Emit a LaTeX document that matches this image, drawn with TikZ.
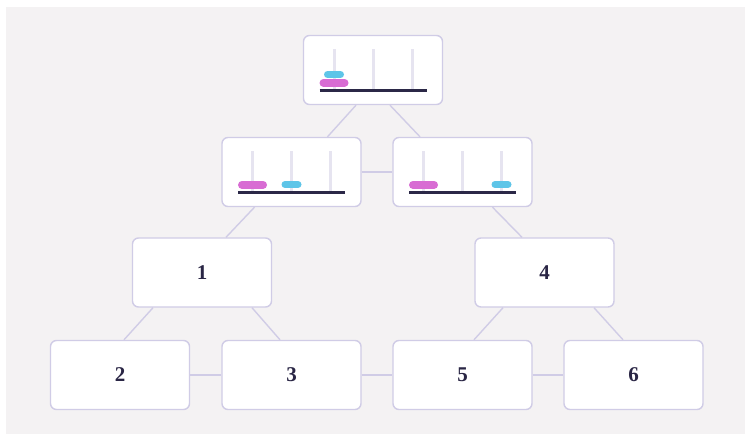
\documentclass[tikz,border=0pt]{standalone}
\usepackage{fontspec}
\setmainfont{Liberation Serif}
\usepackage{xcolor}
\usepackage{tikz}
\usetikzlibrary{positioning,calc}
\definecolor{pagebg}{HTML}{F4F2F3}
\definecolor{boxline}{HTML}{D0CCE6}
\definecolor{pegcol}{HTML}{E6E4F0}
\definecolor{basecol}{HTML}{2B2847}
\definecolor{pinkdisk}{HTML}{D86CD3}
\definecolor{cyandisk}{HTML}{5EC5E8}
\definecolor{labelcol}{HTML}{2A2645}

% three pegs with two disks inside a state node
\newcommand{\towers}[4]{%
    \foreach \px in {-39,0,39}
        \draw[peg] ($(#1)+(\px,-21)$) -- ($(#1)+(\px,19)$);
    \draw[base] ($(#1)+(-53.5,20.5)$) -- ($(#1)+(53.5,20.5)$);
    \draw[bigdisk] ($(#1)+(#2-10.5,12.75)$) -- ($(#1)+(#2+10.5,12.75)$);
    \draw[smalldisk] ($(#1)+(#3-6.5,#4)$) -- ($(#1)+(#3+6.5,#4)$);
}

\begin{document}
\begin{tikzpicture}[
        x=1pt, y=-1pt,
        every node/.style={font=\fontsize{21}{24}\selectfont\bfseries, text=labelcol},
        state/.style={draw=boxline, fill=white, rounded corners=6pt, line width=1.4pt, minimum width=139pt, minimum height=69pt, inner sep=0pt},
        link/.style={draw=boxline, line width=1.4pt},
        peg/.style={pegcol, line width=3pt},
        base/.style={basecol, line width=3.5pt},
        bigdisk/.style={pinkdisk, line width=8pt, line cap=round},
        smalldisk/.style={cyandisk, line width=7pt, line cap=round},
    ]
        \useasboundingbox (0,0) rectangle (745,439);
        \fill[white] (0,0) rectangle (745,439);
        \fill[pagebg] (6,7) rectangle (745,434);

        \node[state] (top) at (373,70) {};
        \node[state] (midl) at (291.5,172) {};
        \node[state] (midr) at (462.5,172) {};
        \node[state] (n1) at (202,272.5) {1};
        \node[state] (n4) at (544.5,272.5) {4};
        \node[state] (n2) at (120,375) {2};
        \node[state] (n3) at (291.5,375) {3};
        \node[state] (n5) at (462.5,375) {5};
        \node[state] (n6) at (633.5,375) {6};

        \towers{top}{-39}{-39}{4.5}
        \towers{midl}{-39}{0}{12.5}
        \towers{midr}{-39}{39}{12.5}

        \draw[link] ([xshift=-17]top.south) -- ([xshift=36]midl.north);
        \draw[link] ([xshift=17]top.south) -- ([xshift=-42.5]midr.north);
        \draw[link] (midl.east) -- (midr.west);
        \draw[link] ([xshift=-37]midl.south) -- ([xshift=24]n1.north);
        \draw[link] ([xshift=30]midr.south) -- ([xshift=-22.5]n4.north);
        \draw[link] ([xshift=-49]n1.south) -- ([xshift=4]n2.north);
        \draw[link] ([xshift=50]n1.south) -- ([xshift=-11.5]n3.north);
        \draw[link] ([xshift=-41.5]n4.south) -- ([xshift=11.5]n5.north);
        \draw[link] ([xshift=49.5]n4.south) -- ([xshift=-10.5]n6.north);
        \draw[link] (n2.east) -- (n3.west);
        \draw[link] (n3.east) -- (n5.west);
        \draw[link] (n5.east) -- (n6.west);
    \end{tikzpicture}
\end{document}
